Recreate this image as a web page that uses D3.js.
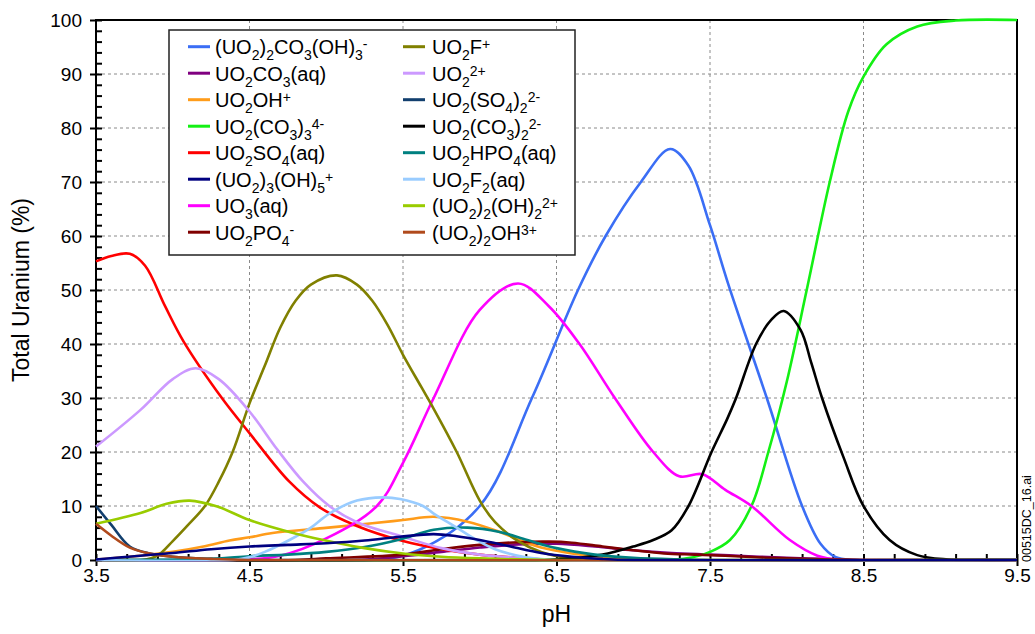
<!DOCTYPE html>
<html><head><meta charset="utf-8">
<script src="https://cdn.jsdelivr.net/npm/d3@7"></script>
<style>
body{margin:0;background:#fff;}
svg{display:block;font-family:"Liberation Sans",Arial,sans-serif;}
</style></head>
<body><svg id="c" width="1035" height="634"></svg>
<script>
// ---- data (pH, % of total uranium) ----
const xTicks = [3.5,4.5,5.5,6.5,7.5,8.5,9.5];
const yTicks = [0,10,20,30,40,50,60,70,80,90,100];

const sUO2_2CO3OH3 = [[3.5,0],[5.3,0],[5.6,1.8],[6.0,10],[6.34,30],[6.64,50],[6.82,60],[7.05,70],[7.24,76.1],[7.36,73],[7.5,62],[7.62,51],[7.87,30],[8.1,10],[8.22,3],[8.32,0.5],[8.45,0],[9.5,0]];
const sUO2CO3 = [[3.5,0],[5.2,0],[5.5,0.7],[5.75,1.5],[6.0,2.3],[6.25,2.9],[6.5,3.0],[6.75,2.5],[7.0,1.8],[7.25,1.3],[7.5,1.0],[7.75,0.7],[8.0,0.4],[8.25,0.2],[8.5,0],[9.5,0]];
const sUO2OH = [[3.5,0.1],[3.79,0.8],[4.0,1.5],[4.2,2.5],[4.37,3.6],[4.5,4.2],[4.65,5.0],[4.98,5.9],[5.3,6.8],[5.5,7.4],[5.7,8.0],[5.92,7.1],[6.13,5.2],[6.26,3.7],[6.4,2.3],[6.6,1.2],[6.8,0.5],[7.0,0.2],[7.3,0],[9.5,0]];
const sUO2CO3_3 = [[3.5,0],[7.2,0],[7.35,0.3],[7.5,1.5],[7.63,3.7],[7.77,10],[7.88,20],[8.0,33],[8.13,50],[8.28,70],[8.4,83],[8.5,89.5],[8.65,95.5],[8.85,98.8],[9.1,99.9],[9.5,100]];
const sUO2SO4 = [[3.5,55.3],[3.6,56.3],[3.72,56.7],[3.82,54.5],[3.95,47],[4.07,40.5],[4.32,30],[4.5,23.5],[4.76,14.5],[4.96,9.7],[5.2,6.3],[5.5,3.5],[5.75,2],[6.0,1],[6.3,0.3],[6.5,0],[9.5,0]];
const sUO2_3OH5 = [[3.5,0.1],[3.75,0.7],[4.0,1.3],[4.25,2],[4.5,2.5],[4.75,2.8],[5.0,3.1],[5.25,3.6],[5.48,4.3],[5.7,4.8],[5.85,4.4],[6.0,3.7],[6.2,2.5],[6.4,1.3],[6.6,0.6],[6.8,0.2],[7.0,0],[9.5,0]];
const sUO3 = [[3.5,0],[4.4,0],[4.7,0.8],[5.0,4],[5.33,10],[5.5,18],[5.7,30],[6.0,46.3],[6.25,51.2],[6.45,47],[6.65,40],[6.88,30],[7.13,20],[7.3,15.5],[7.45,15.9],[7.6,13],[7.77,10],[8.02,3.7],[8.2,0.8],[8.35,0],[9.5,0]];
const sUO2PO4 = [[3.5,0],[4.8,0],[5.0,0.3],[5.5,1.0],[5.75,2],[6.0,2.8],[6.25,3.3],[6.45,3.4],[6.6,3.2],[6.8,2.5],[7.0,1.8],[7.2,1.2],[7.4,1.0],[7.6,0.8],[7.8,0.5],[8.0,0.3],[8.3,0.1],[8.5,0],[9.5,0]];
const sUO2F = [[3.5,0],[3.8,0],[3.9,0.8],[4.0,3.5],[4.1,6.5],[4.21,10],[4.3,14.5],[4.39,20],[4.5,29],[4.6,36],[4.7,43],[4.8,48],[4.9,51],[5.07,52.7],[5.2,51],[5.3,48],[5.4,43.5],[5.5,38],[5.62,32],[5.7,28],[5.85,20],[6.0,11],[6.1,7],[6.25,3.5],[6.4,1.5],[6.6,0.3],[6.8,0],[9.5,0]];
const sUO2 = [[3.5,21],[3.79,27.8],[4.0,33.5],[4.15,35.5],[4.3,33.5],[4.5,27.5],[4.68,20.5],[4.85,14.5],[5.02,10],[5.2,7],[5.5,4.3],[5.75,2.2],[6.0,1],[6.3,0.3],[6.5,0],[9.5,0]];
const sUO2SO4_2 = [[3.5,10],[3.6,6.5],[3.72,2.5],[3.85,1.2],[4.0,0.6],[4.25,0.2],[4.5,0],[9.5,0]];
const sUO2CO3_2 = [[3.5,0],[6.3,0],[6.6,0.3],[6.8,1],[7.0,2.5],[7.13,3.7],[7.25,5.5],[7.36,10],[7.51,20],[7.61,26],[7.67,30],[7.8,40],[7.9,44.5],[7.98,46.1],[8.09,42.6],[8.16,36.5],[8.23,30],[8.37,19],[8.5,10],[8.67,3.7],[8.85,0.9],[9.05,0.1],[9.2,0],[9.5,0]];
const sUO2HPO4 = [[3.5,0],[4.25,0.2],[4.5,0.7],[4.75,1.0],[5.0,1.5],[5.25,2.4],[5.48,3.8],[5.7,5.6],[5.92,6.0],[6.13,5.2],[6.31,3.7],[6.5,2.2],[6.75,1],[7.0,0.4],[7.3,0.1],[7.5,0],[9.5,0]];
const sUO2F2 = [[3.5,0],[4.4,0],[4.5,0.5],[4.6,1.5],[4.76,3.7],[4.9,6],[5.02,8.6],[5.2,11],[5.37,11.6],[5.48,11.3],[5.63,10],[5.7,8.6],[5.85,6],[5.98,3.7],[6.1,2],[6.3,0.5],[6.5,0],[9.5,0]];
const sUO2_2OH2 = [[3.5,6.7],[3.79,8.7],[3.96,10.4],[4.11,11],[4.29,9.9],[4.5,7.4],[4.76,5.2],[4.98,3.7],[5.25,2.2],[5.5,1.2],[5.75,0.6],[6.0,0.3],[6.5,0],[9.5,0]];
const sUO2_2OH = [[3.5,6.7],[3.6,4.5],[3.72,2.3],[3.85,1.2],[4.0,0.6],[4.25,0.2],[4.5,0],[9.5,0]];

const seriesLabels = ["(UO_2)_2CO_3(OH)_3^-","UO_2CO_3(aq)","UO_2OH^+","UO_2(CO_3)_3^{4-}","UO_2SO_4(aq)","(UO_2)_3(OH)_5^+","UO_3(aq)","UO_2PO_4^-",
  "UO_2F^+","UO_2^{2+}","UO_2(SO_4)_2^{2-}","UO_2(CO_3)_2^{2-}","UO_2HPO_4(aq)","UO_2F_2(aq)","(UO_2)_2(OH)_2^{2+}","(UO_2)_2OH^{3+}"];
const seriesData = [sUO2_2CO3OH3,sUO2CO3,sUO2OH,sUO2CO3_3,sUO2SO4,sUO2_3OH5,sUO3,sUO2PO4,sUO2F,sUO2,sUO2SO4_2,sUO2CO3_2,sUO2HPO4,sUO2F2,sUO2_2OH2,sUO2_2OH];
const seriesColors = ["#3b6ef5","#800080","#ff9c1a","#14f014","#ff0000","#000080","#ff00ff","#800000","#808000","#cc99ff","#123f6e","#000000","#008080","#99ccff","#99cc00","#b04a1c"];

// ---- drawing ----
const svg = d3.select("#c");
svg.append("rect").attr("width",1035).attr("height",634).attr("fill","#fff");
const L=96,R=1017,T=20,B=560;
const x = d3.scaleLinear().domain([3.5,9.5]).range([L,R]);
const y = d3.scaleLinear().domain([0,100]).range([B,T]);

svg.append("defs").append("clipPath").attr("id","clip")
 .append("rect").attr("x",L-2).attr("y",T-3).attr("width",R-L+4).attr("height",B-T+4.5);

// grid
const g = svg.append("g");
g.selectAll(".gx").data(xTicks.slice(1,-1)).join("line")
 .attr("x1",d=>x(d)).attr("x2",d=>x(d)).attr("y1",T).attr("y2",B)
 .attr("stroke","#8a8a8a").attr("stroke-dasharray","3,3").attr("stroke-width",1);
g.selectAll(".gy").data(yTicks.slice(1,-1)).join("line")
 .attr("y1",d=>y(d)).attr("y2",d=>y(d)).attr("x1",L).attr("x2",R)
 .attr("stroke","#8a8a8a").attr("stroke-dasharray","3,3").attr("stroke-width",1);

// frame
svg.append("rect").attr("x",L).attr("y",T).attr("width",R-L).attr("height",B-T)
 .attr("fill","none").attr("stroke","#000").attr("stroke-width",2);

// axes
const fontAx = "19px";
const yAx = svg.append("g").attr("transform",`translate(${L},0)`)
 .call(d3.axisLeft(y).tickValues(yTicks).tickSize(6).tickPadding(8).tickFormat(d3.format("d")));
const yIn = svg.append("g").attr("transform",`translate(${L},0)`)
 .call(d3.axisRight(y).tickValues(d3.range(0,51).map(i=>i*2)).tickSize(6).tickFormat(""));
const xAx = svg.append("g").attr("transform",`translate(0,${B})`)
 .call(d3.axisBottom(x).tickValues(xTicks).tickSize(6).tickPadding(3).tickFormat(d3.format(".1f")));
const xIn = svg.append("g").attr("transform",`translate(0,${B})`)
 .call(d3.axisTop(x).tickValues(d3.range(0,31).map(i=>3.5+i*0.2)).tickSize(6).tickFormat(""));
[yAx,yIn,xAx,xIn].forEach(a=>{
  a.select(".domain").remove();
  a.selectAll(".tick line").attr("stroke","#000").attr("stroke-width",2);
  a.selectAll("text").attr("font-size",fontAx).attr("fill","#000").attr("font-family","'Liberation Sans',Arial,sans-serif");
});
svg.append("line").attr("x1",L).attr("x2",L).attr("y1",T-1).attr("y2",B+1).attr("stroke","#000").attr("stroke-width",2);
svg.append("line").attr("x1",L-1).attr("x2",R+1).attr("y1",B).attr("y2",B).attr("stroke","#000").attr("stroke-width",2);

// titles
svg.append("text").attr("x",(L+R)/2).attr("y",622).attr("text-anchor","middle").attr("font-size","23px").text("pH");
svg.append("text").attr("transform",`translate(29,${(T+B)/2}) rotate(-90)`).attr("text-anchor","middle").attr("font-size","23px").text("Total Uranium (%)");
svg.append("text").attr("transform",`translate(1031,562) rotate(-90)`).attr("font-size","12.5px").text("00515DC_16.ai");

// lines
const line = d3.line().x(d=>x(d[0])).y(d=>y(d[1])).curve(d3.curveCatmullRom.alpha(0.5));
const order = d3.range(seriesData.length).filter(i=>i!==5).concat([5]);
svg.append("g").attr("clip-path","url(#clip)").selectAll("path").data(order).join("path")
 .attr("d",i=>line(seriesData[i])).attr("fill","none")
 .attr("stroke",i=>seriesColors[i]).attr("stroke-width",2.6).attr("stroke-linejoin","round");

// legend
const lg = svg.append("g");
lg.append("rect").attr("x",169).attr("y",30).attr("width",406).attr("height",225)
 .attr("fill","#fff").attr("stroke","#222").attr("stroke-width",1.5);
function addLabel(t, str){
  const re=/_(\{[^}]*\}|.)|\^(\{[^}]*\}|.)|([^_^]+)/g; let m, cur=0;
  while((m=re.exec(str))){
    let txt, shift, fs;
    if(m[1]!==undefined){txt=m[1].replace(/[{}]/g,"");shift=6;fs="14px";}
    else if(m[2]!==undefined){txt=m[2].replace(/[{}]/g,"");shift=-5;fs="14px";}
    else {txt=m[3];shift=0;fs="20px";}
    t.append("tspan").attr("dy",shift-cur).attr("font-size",fs).text(txt);
    cur=shift;
  }
}
seriesLabels.forEach((lab,i)=>{
  const col=Math.floor(i/8), row=i%8;
  const ly=46.7+row*26.5;
  const lx0 = col? 403:188, tx = col? 432:215;
  lg.append("line").attr("x1",lx0).attr("x2",lx0+22).attr("y1",ly).attr("y2",ly)
    .attr("stroke",seriesColors[i]).attr("stroke-width",3);
  const t=lg.append("text").attr("x",tx).attr("y",ly+7.3).attr("fill","#000");
  addLabel(t,lab);
});
</script></body></html>
